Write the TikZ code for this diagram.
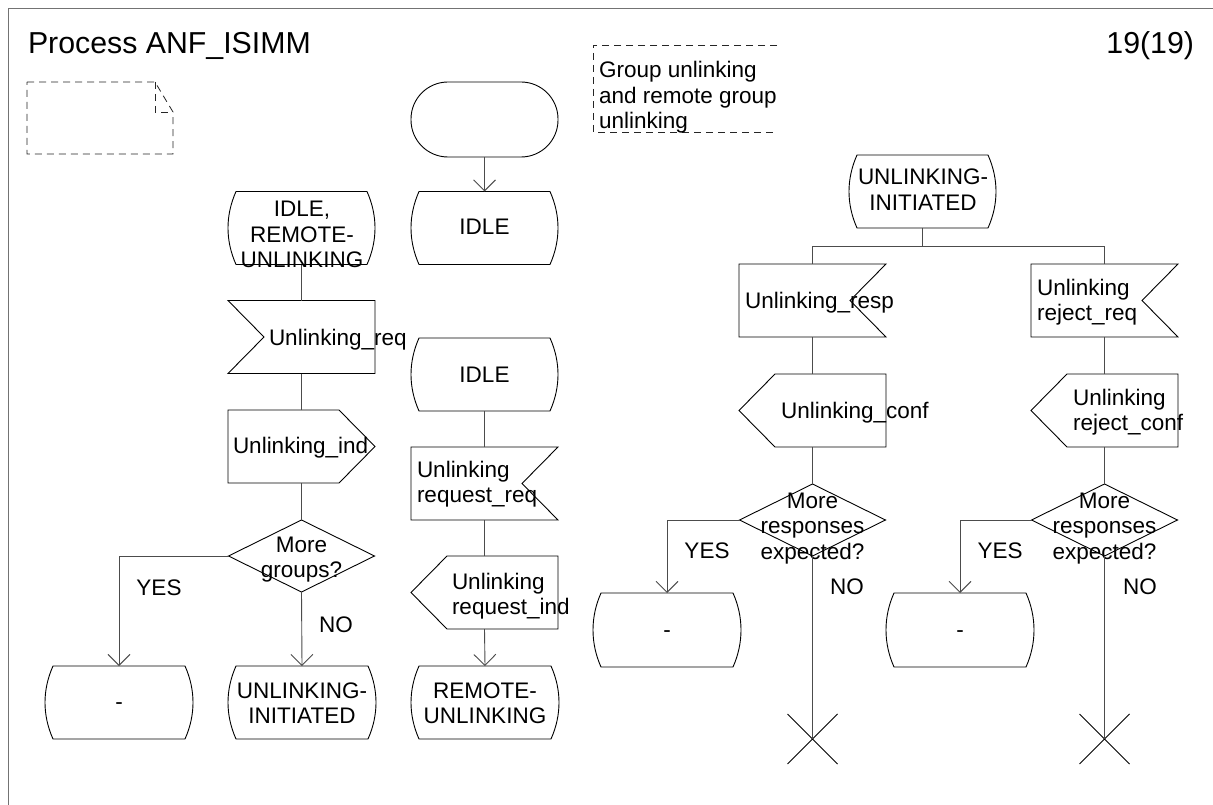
\documentclass[tikz,border=0pt]{standalone}
\usepackage{fontspec}
\setmainfont{Liberation Sans}
\usetikzlibrary{calc,arrows.meta}
\newcommand\sdlstate[1]{\draw[sym] ($(#1.north west)+(8,0)$) -- ($(#1.north east)+(-8,0)$) .. controls ($(#1.north east)+(2.67,24)$) and ($(#1.south east)+(2.67,-24)$) .. ($(#1.south east)+(-8,0)$) -- ($(#1.south west)+(8,0)$) .. controls ($(#1.south west)+(-2.67,-24)$) and ($(#1.north west)+(-2.67,24)$) .. cycle;}
\newcommand\inR[1]{\draw[sym] (#1.north west) -- (#1.north east) -- ($(#1.east)+(-36,0)$) -- (#1.south east) -- (#1.south west) -- cycle;}
\newcommand\inL[1]{\draw[sym] (#1.north west) -- (#1.north east) -- (#1.south east) -- (#1.south west) -- ($(#1.west)+(36,0)$) -- cycle;}
\newcommand\outR[1]{\draw[sym] (#1.north west) -- ($(#1.north east)+(-36,0)$) -- (#1.east) -- ($(#1.south east)+(-36,0)$) -- (#1.south west) -- cycle;}
\newcommand\outL[1]{\draw[sym] ($(#1.north west)+(36,0)$) -- (#1.north east) -- (#1.south east) -- ($(#1.south west)+(36,0)$) -- (#1.west) -- cycle;}
\newcommand\decis[1]{\draw[sym] (#1.north) -- (#1.east) -- (#1.south) -- (#1.west) -- cycle;}
\newcommand\stopx[1]{\draw[sym] ($(#1)+(-25,-25)$) -- ($(#1)+(25,25)$) ($(#1)+(-25,25)$) -- ($(#1)+(25,-25)$);}
\newcommand\mlines[2]{\begin{tabular}[t]{@{}#1@{}}#2\end{tabular}}
\begin{document}
\begin{tikzpicture}[x=1pt,y=-1pt,
  box/.style={rectangle, inner sep=0pt, outer sep=0pt, minimum width=147pt, minimum height=73pt},
  dec/.style={box, minimum width=146pt, minimum height=72pt},
  startbox/.style={draw, rectangle, rounded corners=37pt, minimum width=147pt, minimum height=75pt, inner sep=0pt, line width=0.9pt},
  sym/.style={line width=0.9pt, black},
  conn/.style={line width=0.9pt, black!70},
  arr/.style={-{Straight Barb[length=11pt,width=22pt]}},
  lbl/.style={font=\fontsize{22.5}{25.5}\selectfont, inner sep=0pt, outer sep=0pt},
  ttl/.style={font=\fontsize{30.3}{34}\selectfont, inner sep=0pt, outer sep=0pt},
  cmt/.style={line width=0.8pt, black!85, dash pattern=on 7pt off 5pt},
  frame/.style={line width=1.6pt, black!55}]
\useasboundingbox (0,0) rectangle (1213,805);
\fill[white] (0,0) rectangle (1213,805);
\draw[frame] (8.5,805) -- (8.5,8.5) -- (1213,8.5);

% title
\node[ttl, anchor=base west] (title) at (28,54) {Process ANF\_ISIMM};
\node[ttl, anchor=base east] (page) at (1194,54) {19(19)};

% comment symbols
\draw[cmt] (27,82) -- (155,82) -- (173,112) -- (173,154) -- (27,154) -- cycle;
\draw[cmt] (155,82) -- (155,112) -- (173,112);
\draw[cmt] (777,45) -- (593,45) -- (593,132) -- (777,132);
\node[lbl, anchor=base west] (tcmt) at (599,78) {\mlines{l}{Group unlinking\\and remote group\\unlinking}};

% left column
\node[box] (sL1) at (301.5,228) {};
\node[box] (iL) at (301.5,337) {};
\node[box] (oL) at (301.5,446.5) {};
\node[dec] (dL) at (301.5,556) {};
\node[box, minimum width=148pt] (sL2) at (302,702.5) {};
\node[box, minimum width=148pt] (sL3) at (119,702.5) {};
\sdlstate{sL1} \inL{iL} \outR{oL} \decis{dL} \sdlstate{sL2} \sdlstate{sL3}
\node[lbl, anchor=base] (tsL1) at (302,217) {\mlines{c}{IDLE,\\REMOTE-\\UNLINKING}};
\node[lbl, anchor=base west] (tiL) at (269,345) {Unlinking\_req};
\node[lbl, anchor=base west] (toL) at (233,453) {Unlinking\_ind};
\node[lbl, anchor=base] (tdL) at (301.5,552) {\mlines{c}{More\\groups?}};
\node[lbl, anchor=base] (tsL2) at (302,698) {\mlines{c}{UNLINKING-\\INITIATED}};
\node[lbl, anchor=base] (tsL3) at (119,709) {-};
\node[lbl, anchor=base] (yesL) at (159,595) {YES};
\node[lbl, anchor=base] (noL) at (336,632) {NO};
\draw[conn] (sL1.south) -- (iL.north);
\draw[conn] (iL.south) -- (oL.north);
\draw[conn] (oL.south) -- (dL.north);
\draw[conn, arr] (dL.west) -| (sL3.north);
\draw[conn, arr] (dL.south) -- (sL2.north);

% middle column
\node[startbox] (start) at (484.5,119.5) {};
\node[box] (sM1) at (484.5,228) {};
\node[box] (sM2) at (484.5,374.5) {};
\node[box] (iM) at (484.5,483.5) {};
\node[box] (oM) at (484.5,592.5) {};
\node[box, minimum width=148pt] (sM3) at (485,702.5) {};
\sdlstate{sM1} \sdlstate{sM2} \inR{iM} \outL{oM} \sdlstate{sM3}
\node[lbl, anchor=base] (tsM1) at (484.5,235) {IDLE};
\node[lbl, anchor=base] (tsM2) at (484.5,382) {IDLE};
\node[lbl, anchor=base west] (tiM) at (417,477) {\mlines{l}{Unlinking\\request\_req}};
\node[lbl, anchor=base west] (toM) at (452,589) {\mlines{l}{Unlinking\\request\_ind}};
\node[lbl, anchor=base] (tsM3) at (485,698) {\mlines{c}{REMOTE-\\UNLINKING}};
\draw[conn, arr] (start.south) -- (sM1.north);
\draw[conn] (sM2.south) -- (iM.north);
\draw[conn] (iM.south) -- (oM.north);
\draw[conn, arr] (oM.south) -- (sM3.north);

% right part
\node[box] (sR) at (922.5,191.5) {};
\coordinate (br) at (922.5,246);
\node[box] (iR1) at (812.5,300.5) {};
\node[box] (iR2) at (1104.5,300.5) {};
\node[box] (oR1) at (812.5,410.5) {};
\node[box] (oR2) at (1104.5,410.5) {};
\node[dec] (dR1) at (812.5,520) {};
\node[dec] (dR2) at (1104.5,520) {};
\node[box, minimum width=148pt, minimum height=74pt] (sR1) at (667,630) {};
\node[box, minimum width=148pt, minimum height=74pt] (sR2) at (960,630) {};
\coordinate (x1) at (812.5,739);
\coordinate (x2) at (1104.5,739);
\sdlstate{sR} \inR{iR1} \inR{iR2} \outL{oR1} \outL{oR2} \decis{dR1} \decis{dR2}
\sdlstate{sR1} \sdlstate{sR2} \stopx{x1} \stopx{x2}
\node[lbl, anchor=base] (tsR) at (923,185) {\mlines{c}{UNLINKING-\\INITIATED}};
\node[lbl, anchor=base west] (tiR1) at (745,308) {Unlinking\_resp};
\node[lbl, anchor=base west] (tiR2) at (1037,295) {\mlines{l}{Unlinking\\reject\_req}};
\node[lbl, anchor=base west] (toR1) at (781,418) {Unlinking\_conf};
\node[lbl, anchor=base west] (toR2) at (1073,405) {\mlines{l}{Unlinking\\reject\_conf}};
\node[lbl, anchor=base] (tdR1) at (812.5,508) {\mlines{c}{More\\responses\\expected?}};
\node[lbl, anchor=base] (tdR2) at (1104.5,508) {\mlines{c}{More\\responses\\expected?}};
\node[lbl, anchor=base] (tsR1) at (667,637) {-};
\node[lbl, anchor=base] (tsR2) at (960,637) {-};
\node[lbl, anchor=base] (yesR1) at (707,558) {YES};
\node[lbl, anchor=base] (yesR2) at (1000,558) {YES};
\node[lbl, anchor=base] (noR1) at (847,594) {NO};
\node[lbl, anchor=base] (noR2) at (1140,594) {NO};
\draw[conn] (sR.south) -- (br);
\draw[conn] (br) -| (iR1.north);
\draw[conn] (br) -| (iR2.north);
\draw[conn] (iR1.south) -- (oR1.north);
\draw[conn] (iR2.south) -- (oR2.north);
\draw[conn] (oR1.south) -- (dR1.north);
\draw[conn] (oR2.south) -- (dR2.north);
\draw[conn, arr] (dR1.west) -| (sR1.north);
\draw[conn, arr] (dR2.west) -| (sR2.north);
\draw[conn] (dR1.south) -- (x1);
\draw[conn] (dR2.south) -- (x2);
\end{tikzpicture}
\end{document}
